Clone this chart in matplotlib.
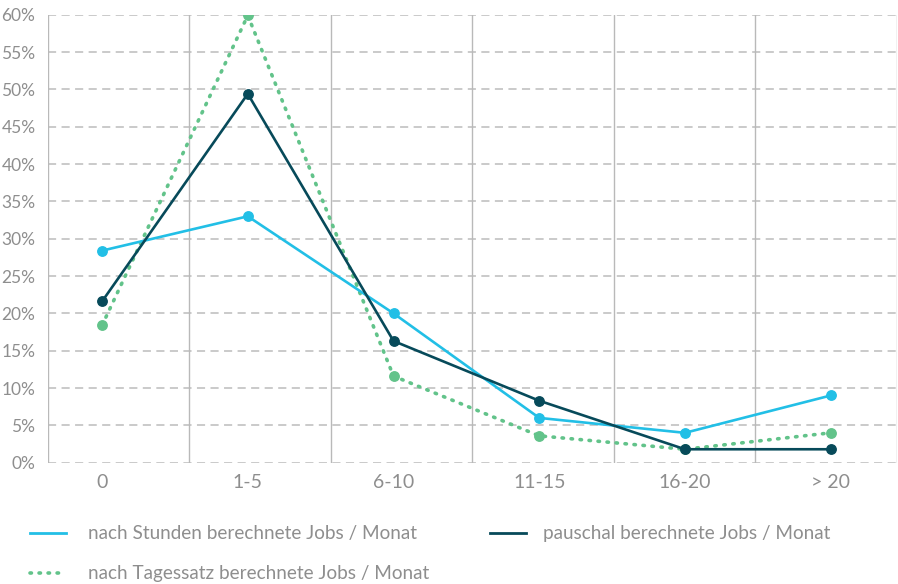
import matplotlib
matplotlib.use("Agg")
import matplotlib.pyplot as plt
from matplotlib.lines import Line2D
import numpy as np

categories = ["0", "1-5", "6-10", "11-15", "16-20", "> 20"]
stunden = [28.4, 33.0, 20.0, 6.0, 4.0, 9.0]
pauschal = [21.6, 49.4, 16.3, 8.3, 1.8, 1.8]
tagessatz = [18.4, 59.9, 11.6, 3.6, 1.8, 4.0]
series_labels = ["nach Stunden berechnete Jobs / Monat",
                 "pauschal berechnete Jobs / Monat",
                 "nach Tagessatz berechnete Jobs / Monat"]
yticks = list(range(0, 61, 5))
ytick_labels = [f"{v}%" for v in yticks]

C_CYAN = "#22bfe6"
C_DARK = "#074a5a"
C_GREEN = "#62c38a"
C_TEXT = "#8e8e8e"

plt.rcParams['font.family'] = ['Lato', 'DejaVu Sans']

fig = plt.figure(figsize=(8.98, 5.84), dpi=100)
W, H = 898, 584
ax = fig.add_axes([48 / W, 1 - 462.7 / H, (896.7 - 48) / W, (462.7 - 14.7) / H])

x = np.arange(len(categories))
xl0, xl1 = -0.371, 5.453
ax.set_xlim(xl0, xl1)
ax.set_ylim(0, 60)

# grid
for v in yticks:
    ax.axhline(v, color="#c6c6c6", lw=1.3, ls=(0, (4.5, 3)), zorder=1)
for b in np.linspace(xl0, xl1, len(categories) + 1):
    ax.axvline(b, color="#b9b9b9", lw=1.0, zorder=1)

lw = 1.9
ms = 6.8
ax.plot(x, stunden, color=C_CYAN, lw=lw, marker="o", ms=ms, zorder=3)
ax.plot(x, pauschal, color=C_DARK, lw=lw, marker="o", ms=ms, zorder=4)
ax.plot(x, tagessatz, color=C_GREEN, lw=2.6, ls=(0, (0.4, 2.1)),
        dash_capstyle="round", marker="o", ms=ms, zorder=2)

for s in ax.spines.values():
    s.set_visible(False)

ax.set_yticks(yticks)
ax.set_yticklabels(ytick_labels)
ax.set_xticks(x)
ax.set_xticklabels(categories)
ax.tick_params(axis="both", length=0, colors=C_TEXT)
ax.tick_params(axis="y", pad=9, labelsize=12.5)
ax.tick_params(axis="x", pad=8, labelsize=14)

# legend (manual placement)
def leg(x0, y0, color, ls, lwid, text, tx):
    fig.add_artist(Line2D([x0 / W, (x0 + 36) / W], [1 - y0 / H, 1 - y0 / H],
                          color=color, lw=lwid, ls=ls, dash_capstyle="round",
                          transform=fig.transFigure))
    fig.text(tx / W, 1 - y0 / H, text, color=C_TEXT, fontsize=13.6,
             va="center", ha="left")

leg(30, 533, C_CYAN, "-", 2, series_labels[0], 88)
leg(490, 533, C_DARK, "-", 2, series_labels[1], 543)
leg(30, 573, C_GREEN, (0, (0.4, 2.1)), 2.6, series_labels[2], 88)

fig.savefig("out.png", dpi=100)
